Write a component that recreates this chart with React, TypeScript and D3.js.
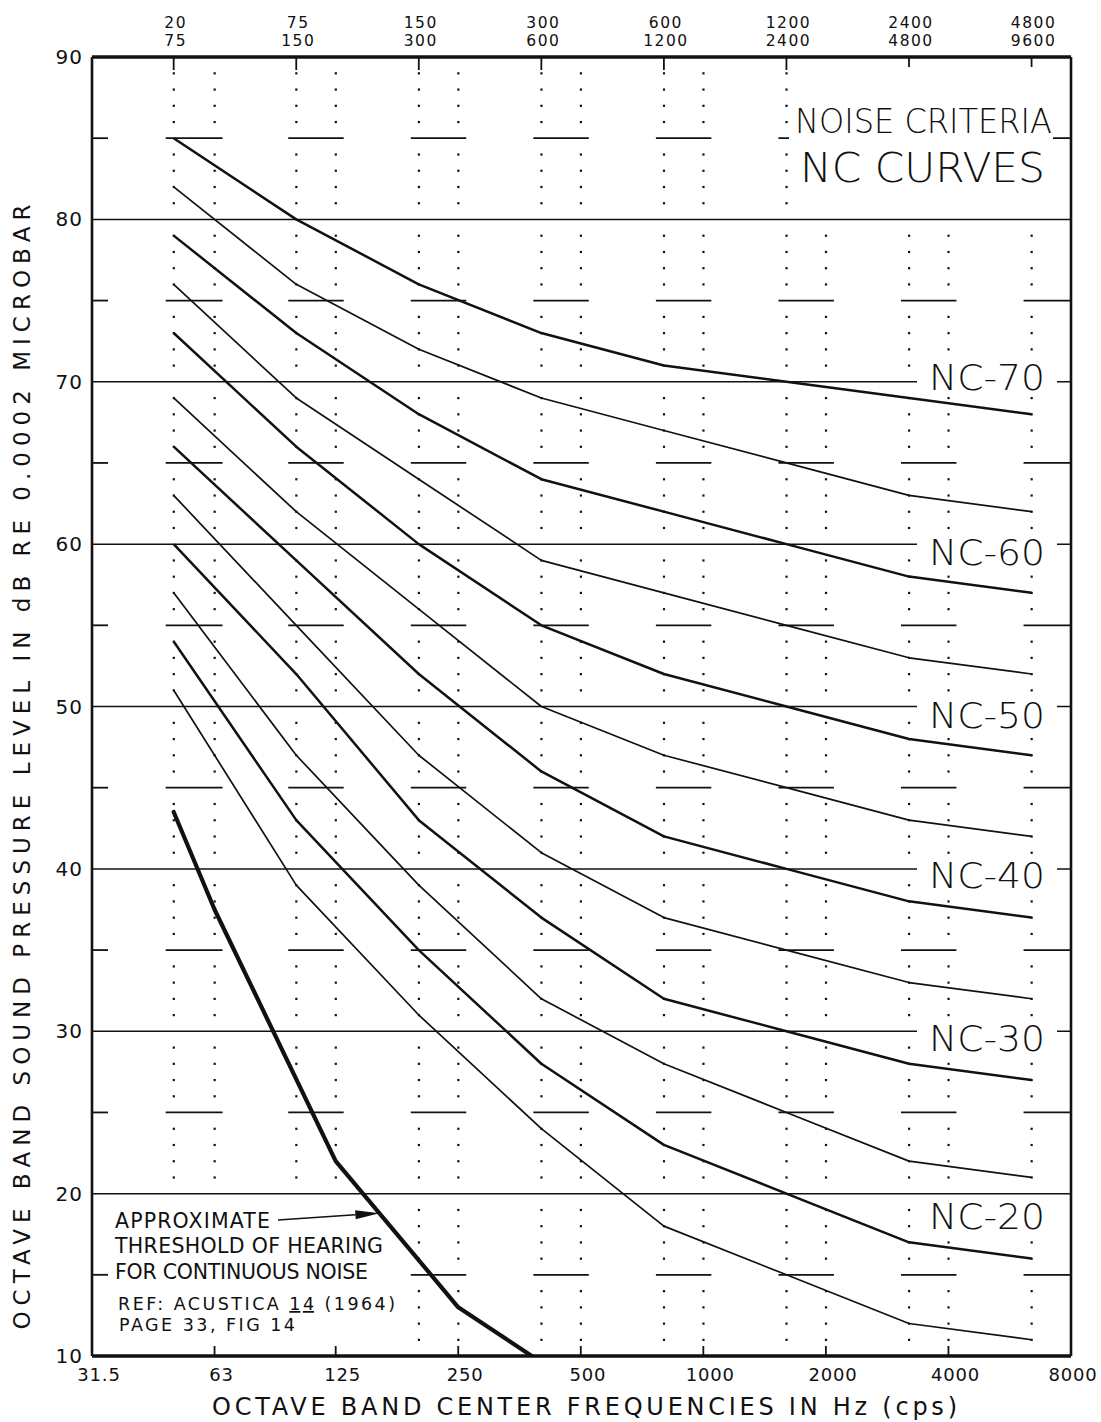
import React from "react";
import * as d3 from "d3";

// Octave bands: plotting frequency of each band and its band limits
const bandCenters = [50, 100, 200, 400, 800, 1600, 3200, 6400];
const bandLow = ["20", "75", "150", "300", "600", "1200", "2400", "4800"];
const bandHigh = ["75", "150", "300", "600", "1200", "2400", "4800", "9600"];

// Preferred octave centre frequencies along the bottom axis
const octaveFreqs = [31.5, 63, 125, 250, 500, 1000, 2000, 4000, 8000];
const octaveLabels = ["31.5", "63", "125", "250", "500", "1000", "2000", "4000", "8000"];

const levelTicks = [10, 20, 30, 40, 50, 60, 70, 80, 90];

// NC curves, band levels in dB
const ncNames = ["NC-70", "NC-65", "NC-60", "NC-55", "NC-50", "NC-45", "NC-40", "NC-35", "NC-30", "NC-25", "NC-20", "NC-15"];
const nc70 = [85, 80, 76, 73, 71, 70, 69, 68];
const nc65 = [82, 76, 72, 69, 67, 65, 63, 62];
const nc60 = [79, 73, 68, 64, 62, 60, 58, 57];
const nc55 = [76, 69, 64, 59, 57, 55, 53, 52];
const nc50 = [73, 66, 60, 55, 52, 50, 48, 47];
const nc45 = [69, 62, 56, 50, 47, 45, 43, 42];
const nc40 = [66, 59, 52, 46, 42, 40, 38, 37];
const nc35 = [63, 55, 47, 41, 37, 35, 33, 32];
const nc30 = [60, 52, 43, 37, 32, 30, 28, 27];
const nc25 = [57, 47, 39, 32, 28, 25, 22, 21];
const nc20 = [54, 43, 35, 28, 23, 20, 17, 16];
const nc15 = [51, 39, 31, 24, 18, 15, 12, 11];
const ncCurves = [nc70, nc65, nc60, nc55, nc50, nc45, nc40, nc35, nc30, nc25, nc20, nc15];

// Right-hand curve labels and the level each one is centred on
const labelNames = ["NC-70", "NC-60", "NC-50", "NC-40", "NC-30", "NC-20"];
const labelLevels = [70.3, 59.5, 49.5, 39.6, 29.6, 18.6];

// Approximate threshold of hearing for continuous noise
const thresholdFreqs = [50, 63, 125, 250, 500];
const thresholdLevels = [43.5, 37.5, 22, 13, 8];
const arrowFreq = 160;

const W = 1101;
const H = 1422;
const L = 92;
const R = 1071;
const T = 57;
const B = 1356;
const FONT = "'DejaVu Sans', 'Liberation Sans', sans-serif";
const INK = "#111";

export default function App() {
  const x = d3.scaleLog().base(2).domain([31.5, 8000]).range([L, R]);
  const y = d3.scaleLinear().domain([10, 90]).range([B, T]);

  const line = d3
    .line<number>()
    .x((_, i) => x(bandCenters[i]))
    .y((d) => y(d));

  const threshold = d3
    .line<number>()
    .x((_, i) => x(thresholdFreqs[i]))
    .y((d) => y(d));

  // vertical dotted rulings at band centres and at the octave frequencies
  const dotColumns = [...bandCenters, ...octaveFreqs.slice(1, 8)];
  const dotLevels = d3.range(11, 90).filter((v) => v % 5 !== 0);
  const dashLevels = d3.range(15, 90, 10);
  const gridLevels = d3.range(20, 90, 10);

  // arrow tip sits on the threshold curve between 125 and 250 Hz
  const tipLevel = d3
    .scaleLinear()
    .domain([Math.log2(125), Math.log2(250)])
    .range([22, 13])(Math.log2(arrowFreq));
  const tipX = x(arrowFreq);
  const tipY = y(tipLevel);
  const tailX = 278;
  const tailY = 1220;
  const ang = Math.atan2(tipY - tailY, tipX - tailX);
  const ah = 24;
  const aw = 4.5;
  const bx = tipX - ah * Math.cos(ang);
  const by = tipY - ah * Math.sin(ang);
  const arrowHead = [
    [tipX, tipY],
    [bx + aw * Math.sin(ang), by - aw * Math.cos(ang)],
    [bx - aw * Math.sin(ang), by + aw * Math.cos(ang)],
  ]
    .map((p) => p.join(","))
    .join(" ");

  return (
    <svg
      width={W}
      height={H}
      viewBox={`0 0 ${W} ${H}`}
      style={{ position: "absolute", left: 0, top: 0, background: "#fff" }}
      fontFamily={FONT}
    >
      <defs>
        <clipPath id="plot-clip">
          <rect x={L} y={T} width={R - L} height={B - T} />
        </clipPath>
      </defs>
      <rect x={0} y={0} width={W} height={H} fill="#fff" />

      {/* solid rulings every 10 dB */}
      {gridLevels.map((v) => (
        <line key={`g${v}`} x1={L} x2={R} y1={y(v)} y2={y(v)} stroke={INK} strokeWidth={1.5} />
      ))}

      {/* short dashes at the odd 5 dB levels */}
      <g clipPath="url(#plot-clip)">
        {dashLevels.map((v) =>
          bandCenters.map((f, i) => (
            <line
              key={`d${v}-${i}`}
              x1={x(f) - 8}
              x2={Math.min(R, x(octaveFreqs[i + 1]) + 8)}
              y1={y(v)}
              y2={y(v)}
              stroke={INK}
              strokeWidth={1.8}
            />
          ))
        )}
      </g>

      {/* dotted verticals */}
      {dotColumns.map((f) =>
        dotLevels.map((v) => (
          <rect key={`p${f}-${v}`} x={x(f) - 1} y={y(v) - 1} width={2.2} height={2.2} fill={INK} />
        ))
      )}

      {/* ticks */}
      {bandCenters.map((f) => (
        <line key={`tt${f}`} x1={x(f)} x2={x(f)} y1={T} y2={T + 13} stroke={INK} strokeWidth={1.8} />
      ))}
      {octaveFreqs.slice(1, 8).map((f) => (
        <line key={`bt${f}`} x1={x(f)} x2={x(f)} y1={B} y2={B - 10} stroke={INK} strokeWidth={1.8} />
      ))}

      {/* white panels behind the lettering */}
      <rect x={789} y={67} width={264} height={147} fill="#fff" />
      {labelLevels.map((v, i) => (
        <rect key={`lb${i}`} x={917} y={y(v) - 17} width={140} height={34} fill="#fff" />
      ))}
      <rect x={96} y={1199} width={310} height={143} fill="#fff" />

      {dashLevels.map((v) => (
        <line key={`lt${v}`} x1={L} x2={L + 16} y1={y(v)} y2={y(v)} stroke={INK} strokeWidth={1.8} />
      ))}

      {/* NC curves */}
      {ncCurves.map((c, i) => (
        <path
          key={ncNames[i]}
          d={line(c) || ""}
          fill="none"
          stroke={INK}
          strokeWidth={i % 2 === 0 ? 2.5 : 1.7}
          strokeLinejoin="round"
        />
      ))}

      {/* threshold of hearing */}
      <g clipPath="url(#plot-clip)">
        <path
          d={threshold(thresholdLevels) || ""}
          fill="none"
          stroke={INK}
          strokeWidth={4.2}
          strokeLinejoin="round"
          strokeLinecap="round"
        />
      </g>

      {/* frame */}
      <line x1={L} x2={R} y1={T} y2={T} stroke={INK} strokeWidth={3.5} />
      <line x1={L} x2={R} y1={B} y2={B} stroke={INK} strokeWidth={3.5} />
      <line x1={L} x2={L} y1={T} y2={B} stroke={INK} strokeWidth={2.6} />
      <line x1={R} x2={R} y1={T} y2={B} stroke={INK} strokeWidth={2.6} />

      {/* band limit labels across the top */}
      {bandCenters.map((f, i) => (
        <g key={`bl${i}`} fontSize={15.5} fill={INK} textAnchor="middle">
          <text x={x(f) + 2} y={28} letterSpacing={1.5}>
            {bandLow[i]}
          </text>
          <text x={x(f) + 2} y={46} letterSpacing={1.5}>
            {bandHigh[i]}
          </text>
        </g>
      ))}

      {/* level labels */}
      {levelTicks.map((v) => (
        <text key={`yl${v}`} x={83} y={y(v) + 7} fontSize={20} textAnchor="end" fill={INK} letterSpacing={1}>
          {v}
        </text>
      ))}

      {/* frequency labels */}
      {octaveFreqs.map((f, i) => (
        <text
          key={`xl${f}`}
          x={Math.min(x(f) + 7, W - 28)}
          y={1381}
          fontSize={18}
          textAnchor="middle"
          fill={INK}
          letterSpacing={0.8}
        >
          {octaveLabels[i]}
        </text>
      ))}

      <text x={212} y={1415} fontSize={24} fill={INK} textLength={745} lengthAdjust="spacing">
        OCTAVE BAND CENTER FREQUENCIES IN Hz (cps)
      </text>
      <text
        transform={`translate(30, 767) rotate(-90)`}
        fontSize={23}
        fill={INK}
        textAnchor="middle"
        textLength={1125}
        lengthAdjust="spacing"
      >
        OCTAVE BAND SOUND PRESSURE LEVEL IN dB RE 0.0002 MICROBAR
      </text>

      <g fontWeight={200} fill={INK}>
        <text x={795} y={133} fontSize={33} textLength={257} lengthAdjust="spacingAndGlyphs">
          NOISE CRITERIA
        </text>
        <text x={800} y={182} fontSize={41} textLength={245} lengthAdjust="spacingAndGlyphs">
          NC CURVES
        </text>

        {labelNames.map((n, i) => (
          <text
            key={n}
            x={929}
            y={y(labelLevels[i]) + 13}
            fontSize={36}
            textLength={116}
            lengthAdjust="spacingAndGlyphs"
          >
            {n}
          </text>
        ))}
      </g>

      {/* threshold annotation */}
      <line x1={tailX} y1={tailY} x2={bx} y2={by} stroke={INK} strokeWidth={1.5} />
      <polygon points={arrowHead} fill={INK} />
      <g fill={INK}>
        <text x={115} y={1228} fontSize={20.5} textLength={155}>
          APPROXIMATE
        </text>
        <text x={115} y={1253} fontSize={20.5} textLength={268}>
          THRESHOLD OF HEARING
        </text>
        <text x={115} y={1279} fontSize={20.5} textLength={253}>
          FOR CONTINUOUS NOISE
        </text>
        <text x={118} y={1310} fontSize={17.5} textLength={277}>
          REF: ACUSTICA <tspan textDecoration="underline">14</tspan> (1964)
        </text>
        <text x={119} y={1331} fontSize={17.5} textLength={176}>
          PAGE 33, FIG 14
        </text>
      </g>
    </svg>
  );
}
